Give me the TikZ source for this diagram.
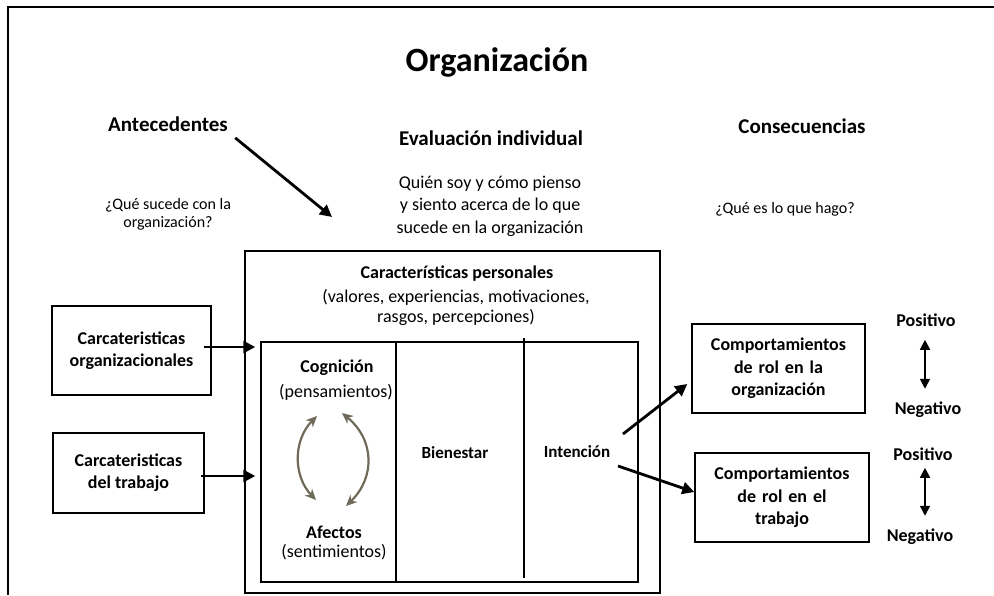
\documentclass[tikz,border=0pt]{standalone}
\usepackage{fontspec}
\setmainfont{Carlito}
\usetikzlibrary{arrows.meta}
\definecolor{arcgray}{RGB}{112,106,90}

\begin{document}
\begin{tikzpicture}[x=0.5pt,y=-0.5pt]
\tikzstyle{every node}+=[inner sep=0pt]
\tikzstyle{box}=[draw=black,line width=0.75pt,align=center,font=\bfseries\fontsize{9}{11}\selectfont]
\tikzstyle{frame}=[draw=black,line width=0.75pt]
\tikzstyle{head}=[font=\bfseries\fontsize{10.5}{12}\selectfont]
\tikzstyle{lbl}=[font=\bfseries\fontsize{9}{11}\selectfont]
\tikzstyle{txt}=[align=center,font=\fontsize{9}{11.2}\selectfont]
\tikzstyle{smalltxt}=[align=center,font=\fontsize{8}{9}\selectfont]
\tikzstyle{arr}=[line width=1.4pt,-{Triangle[length=6pt,width=6pt]}]
\tikzstyle{dbl}=[line width=0.75pt,{Triangle[length=5pt,width=5pt]}-{Triangle[length=5pt,width=5pt]}]
\tikzstyle{cycarrow}=[arcgray,line width=1.1pt,{Stealth[length=5.5pt,width=5pt]}-{Stealth[length=5.5pt,width=5pt]}]
\useasboundingbox (0,0) rectangle (994,595);
\draw [line width=0.75pt] (8,595) -- (8,7) -- (994,7);
\node [font=\bfseries\fontsize{17}{20}\selectfont] (title) at (497,62) {Organización};
\node [head] (antec) at (168,124) {Antecedentes};
\node [head] (evalind) at (491,138) {Evaluación individual};
\node [head] (consec) at (802,126) {Consecuencias};
\node [smalltxt] (qorg) at (168,214) {¿Qué sucede con la\\organización?};
\node [txt] (quien) at (490,206) {Quién soy y cómo pienso\\y siento acerca de lo que\\sucede en la organización};
\node [smalltxt] (qhago) at (785,209) {¿Qué es lo que hago?};
\coordinate (antip) at (332,217);
\draw [arr] ([xshift=3.5pt,yshift=-3pt]antec.south east) -- (antip);
\node [frame,minimum width=207.5pt,minimum height=171pt] (pers) at (452.5,422) {};
\node [frame,minimum width=188.5pt,minimum height=120pt] (inner) at (449.5,462) {};
\draw [line width=0.75pt] (396,342) -- (396,582);
\draw [line width=0.75pt] (524,338) -- (524,578);
\node [lbl] (carpers) at (457,274) {Características personales};
\node [txt,font=\fontsize{9}{10}\selectfont] (valores) at (456,307) {(valores, experiencias, motivaciones,\\rasgos, percepciones)};
\node [lbl] (cogn) at (337,368) {Cognición};
\node [txt] (pens) at (336,392) {(pensamientos)};
\node [lbl] (afect) at (334,532) {Afectos};
\node [txt] (sent) at (334,552) {(sentimientos)};
\node [lbl,font=\bfseries\fontsize{8.5}{10}\selectfont] (bien) at (455,453) {Bienestar};
\node [lbl,font=\bfseries\fontsize{8.5}{10}\selectfont] (inten) at (577,452) {Intención};
\coordinate (c1) at (317,416);
\coordinate (c2) at (316,500);
\coordinate (c3) at (342,413);
\coordinate (c4) at (346,506);
\draw [cycarrow] (c1) .. controls (293,440) and (293,476) .. (c2);
\draw [cycarrow] (c3) .. controls (375,440) and (375,478) .. (c4);
\node [box,minimum width=79.5pt,minimum height=44.5pt] (orgchar) at (131.5,350.5) {Carcateristicas\\organizacionales};
\node [box,minimum width=75.5pt,minimum height=40pt] (trabchar) at (128.5,473) {Carcateristicas\\del trabajo};
\draw [arr] ([xshift=-4pt,yshift=1.75pt]orgchar.east) coordinate (o1) -- ([xshift=-2.5pt]inner.west |- o1);
\draw [arr] ([xshift=-2pt,yshift=-1.5pt]trabchar.east) coordinate (t1) -- ([xshift=-2.5pt]inner.west |- t1);
\node [box,text width=86.5pt,minimum width=86.5pt,minimum height=44.5pt,font=\bfseries\fontsize{9}{11.25}\selectfont] (rolorg) at (778.5,368.5) {Comportamientos\\de rol en la\\organización};
\node [box,text width=87pt,minimum width=87pt,minimum height=44.5pt,font=\bfseries\fontsize{9}{11.25}\selectfont] (roltrab) at (782,497.5) {Comportamientos\\de rol en el\\trabajo};
\draw [arr] ([xshift=23pt,yshift=9pt]inten.center) -- ([xshift=-2pt,yshift=-7.75pt]rolorg.west);
\draw [arr] ([xshift=20.5pt,yshift=-7pt]inten.center) -- ([yshift=2.75pt]roltrab.west);
\node [lbl] (pos1) at (926,320) {Positivo};
\node [lbl] (neg1) at (928,410) {Negativo};
\node [lbl] (pos2) at (923,454) {Positivo};
\node [lbl] (neg2) at (920,537) {Negativo};
\draw [dbl,shorten <=6.5pt,shorten >=6.5pt] ([xshift=-0.5pt]pos1.south) -- ([xshift=-0.5pt]pos1.south |- neg1.north);
\draw [dbl,shorten <=3.5pt,shorten >=6.5pt] ([xshift=1pt]pos2.south) -- ([xshift=1pt]pos2.south |- neg2.north);
\end{tikzpicture}
\end{document}
